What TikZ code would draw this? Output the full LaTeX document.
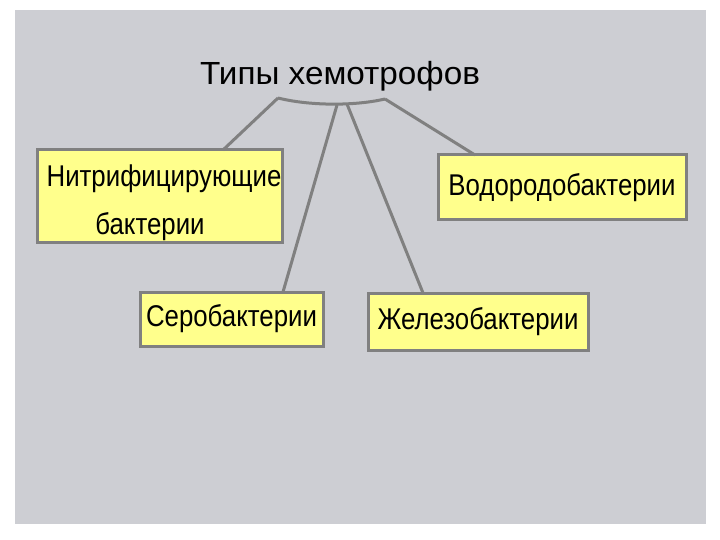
\documentclass[tikz,border=0pt]{standalone}
\usepackage{fontspec}
\setmainfont{Liberation Sans}
\newfontfamily\narrowfont[FakeStretch=0.86]{Liberation Sans}
\newfontfamily\titlefont[FakeStretch=1.04]{Liberation Sans}
\definecolor{bggray}{RGB}{205,206,211}
\definecolor{boxfill}{RGB}{255,255,140}
\definecolor{linegray}{RGB}{128,128,128}
\begin{document}
\begin{tikzpicture}[x=1pt,y=-1pt,
  bx/.style={draw=linegray,line width=3pt,fill=boxfill,inner sep=0pt,
    font=\narrowfont\fontsize{30}{42}\selectfont,align=center},
  txt/.style={inner sep=0pt,anchor=base,font=\narrowfont\fontsize{30}{36}\selectfont},
  conn/.style={draw=linegray,line width=3pt}]
\useasboundingbox (0,0) rectangle (720,540);
\fill[white] (0,0) rectangle (720,540);
\fill[bggray] (15,10) rectangle (706,524);
\node[font=\titlefont\fontsize{32}{38}\selectfont] (title) at (340,76) {Типы хемотрофов};
\coordinate (a1) at (278,98);
\coordinate (a2) at (337,105);
\coordinate (a3) at (347,104);
\coordinate (a4) at (385,99);
\draw[conn] (a1) .. controls (310,106) and (355,106) .. (a4);
\node[bx,minimum width=245,minimum height=92] (b1) at (159.5,196) {};
\node[txt] (b1l1) at (164,187) {Нитрифицирующие};
\node[txt] (b1l2) at (150,234) {бактерии};
\node[bx,minimum width=183,minimum height=54] (b2) at (231.5,319) {Серобактерии};
\node[bx,minimum width=220,minimum height=57] (b3) at (478,321.5) {Железобактерии};
\node[bx,minimum width=248,minimum height=65] (b4) at (562,187.5) {Водородобактерии};
\coordinate (t1) at (223,150);
\coordinate (t2) at (283,292);
\coordinate (t3) at (423,293);
\coordinate (t4) at (475,155);
\draw[conn] (a1) -- (t1);
\draw[conn] (a2) -- (t2);
\draw[conn] (a3) -- (t3);
\draw[conn] (a4) -- (t4);
\end{tikzpicture}
\end{document}
